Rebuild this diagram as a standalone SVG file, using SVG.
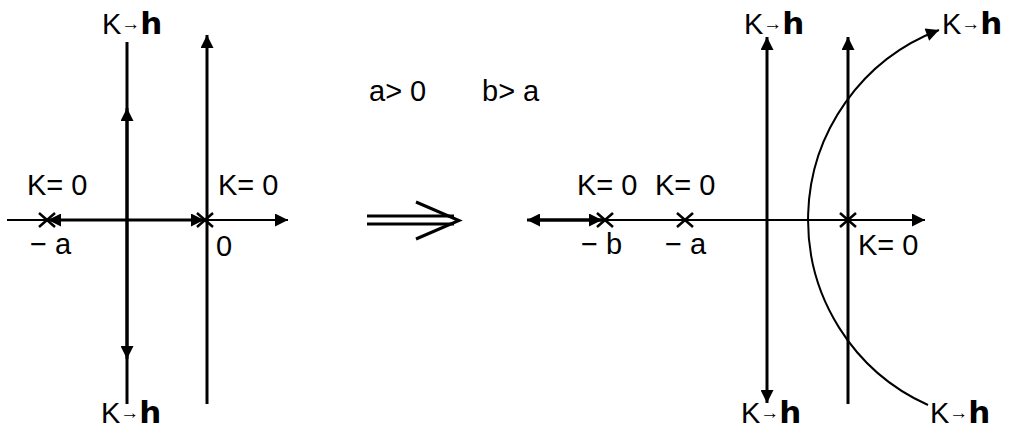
<svg xmlns="http://www.w3.org/2000/svg" width="1014" height="430" viewBox="0 0 1014 430">
  <style>
    .lbl { font-family: "Liberation Sans", "Noto Sans CJK JP", sans-serif; font-size: 29px; fill: #000; }
    .arr { font-size: 19px; }
    .inf { font-family: "DejaVu Sans", sans-serif; font-weight: bold; font-size: 31px; }
    .thin { stroke: #000; stroke-width: 2; fill: none; }
    .thick { stroke: #000; stroke-width: 3; fill: none; }
    .imp { stroke: #000; stroke-width: 3; fill: none; }
    .cross { stroke: #000; stroke-width: 2.5; fill: none; }
  </style>
  <defs>
    <marker id="ah" viewBox="0 0 10 10" refX="10" refY="5" markerWidth="16" markerHeight="13" markerUnits="userSpaceOnUse" orient="auto">
      <path d="M0,0 L10,5 L0,10 z" fill="#000"/>
    </marker>
  </defs>

  <g id="connectors">
    <!-- left root locus -->
    <line class="thin" x1="7" y1="220" x2="288" y2="220" marker-end="url(#ah)"/>
    <line class="thick" x1="127" y1="220" x2="48" y2="220" marker-end="url(#ah)"/>
    <line class="thick" x1="127" y1="220" x2="204" y2="220" marker-end="url(#ah)"/>
    <line class="thick" x1="127" y1="42" x2="127" y2="404"/>
    <line class="thick" x1="127" y1="220" x2="127" y2="108" marker-end="url(#ah)"/>
    <line class="thick" x1="127" y1="220" x2="127" y2="359" marker-end="url(#ah)"/>
    <line class="thick" x1="207" y1="404" x2="207" y2="35" marker-end="url(#ah)"/>

    <!-- implication arrow -->
    <line class="imp" x1="367" y1="216" x2="454" y2="216"/>
    <line class="imp" x1="367" y1="224" x2="454" y2="224"/>
    <polyline class="imp" points="416,202 459,220.5 416,239"/>

    <!-- right root locus -->
    <line class="thin" x1="600" y1="220" x2="925" y2="220" marker-end="url(#ah)"/>
    <line class="thick" x1="604" y1="220" x2="527" y2="220" marker-end="url(#ah)"/>
    <line class="thick" x1="540" y1="220" x2="602" y2="220" marker-end="url(#ah)"/>
    <line class="thick" x1="767" y1="220" x2="767" y2="37" marker-end="url(#ah)"/>
    <line class="thick" x1="767" y1="220" x2="767" y2="403" marker-end="url(#ah)"/>
    <line class="thick" x1="848" y1="404" x2="848" y2="37" marker-end="url(#ah)"/>
    <path class="thin" d="M928,405 A203,203 0 0 1 939,30" marker-end="url(#ah)"/>
  </g>

  <g id="poles">
    <path class="cross" d="M39,213 L55,227 M55,213 L39,227"/>
    <path class="cross" d="M197,213 L213,227 M213,213 L197,227"/>
    <path class="cross" d="M597,213 L613,227 M613,213 L597,227"/>
    <path class="cross" d="M677,213 L693,227 M693,213 L677,227"/>
    <path class="cross" d="M840,213 L856,227 M856,213 L840,227"/>
  </g>

  <g id="labels">
    <text class="lbl" x="102" y="34">K<tspan class="arr" dy="-4">→</tspan><tspan class="inf" dy="4">h</tspan></text>
    <text class="lbl" x="101" y="423">K<tspan class="arr" dy="-4">→</tspan><tspan class="inf" dy="4">h</tspan></text>
    <text class="lbl" x="27" y="195">K= 0</text>
    <text class="lbl" x="218" y="195">K= 0</text>
    <text class="lbl" x="30" y="254">− a</text>
    <text class="lbl" x="216" y="256">0</text>

    <text class="lbl" x="369" y="101">a&gt; 0</text>
    <text class="lbl" x="482" y="101">b&gt; a</text>

    <text class="lbl" x="744" y="34">K<tspan class="arr" dy="-4">→</tspan><tspan class="inf" dy="4">h</tspan></text>
    <text class="lbl" x="942" y="34">K<tspan class="arr" dy="-4">→</tspan><tspan class="inf" dy="4">h</tspan></text>
    <text class="lbl" x="741" y="423">K<tspan class="arr" dy="-4">→</tspan><tspan class="inf" dy="4">h</tspan></text>
    <text class="lbl" x="930" y="423">K<tspan class="arr" dy="-4">→</tspan><tspan class="inf" dy="4">h</tspan></text>
    <text class="lbl" x="577" y="195">K= 0</text>
    <text class="lbl" x="655" y="195">K= 0</text>
    <text class="lbl" x="581" y="254">− b</text>
    <text class="lbl" x="665" y="254">− a</text>
    <text class="lbl" x="858" y="255">K= 0</text>
  </g>
</svg>
